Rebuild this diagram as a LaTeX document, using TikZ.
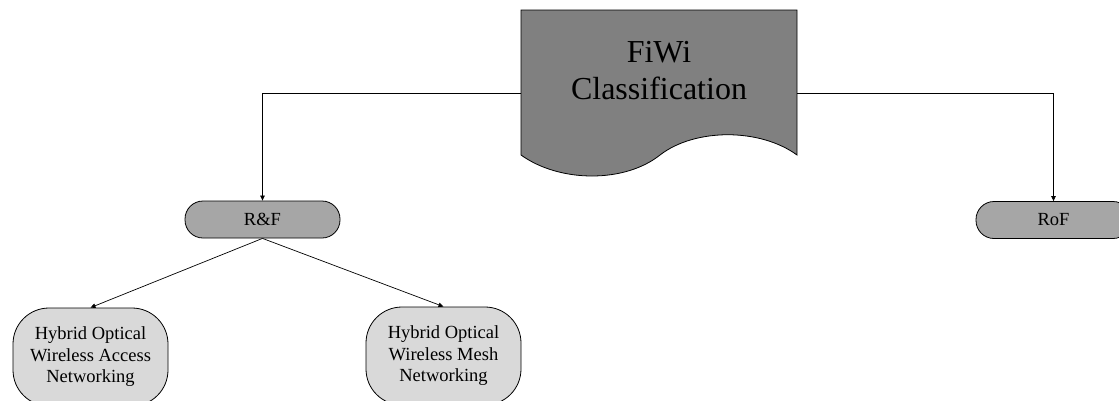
\documentclass[tikz,border=0pt]{standalone}
\usepackage{fontspec}
\setmainfont{Liberation Serif}
\usetikzlibrary{arrows.meta}
\definecolor{docgray}{HTML}{808080}
\definecolor{midgray}{HTML}{A6A6A6}
\definecolor{lightgray}{HTML}{D9D9D9}
\tikzset{
  pill/.style={draw=black, line width=0.8pt, fill=midgray, rounded corners=18pt,
    minimum width=155pt, minimum height=37pt, inner sep=0pt,
    font=\fontsize{18.5}{21.5}\selectfont},
  leafbox/.style={draw=black, line width=0.8pt, fill=lightgray, rounded corners=36pt,
    minimum width=155pt, minimum height=98pt, inner sep=0pt, align=center,
    font=\fontsize{18.5}{21.5}\selectfont},
  conn/.style={draw=black, line width=0.7pt, -{Triangle[length=5pt,width=4.5pt]}},
  line/.style={draw=black, line width=0.7pt}
}
\begin{document}
\begin{tikzpicture}[x=1pt,y=-1pt]
\useasboundingbox (0,0) rectangle (1119,400);
% document shape
\draw[line width=0.8pt, fill=docgray] (521,10) -- (797,10) -- (797,155)
  .. controls (760,128) and (695,128) .. (660,155)
  .. controls (625,183) and (560,183) .. (521,155) -- cycle;
\node[align=center, inner sep=0pt, font=\fontsize{32}{37}\selectfont] (doc) at (659,70.5) {FiWi\\Classification};
\coordinate (docL) at (521,93);
\coordinate (docR) at (797,93);
% level 1
\node[pill] (rf) at (262.5,219.5) {R\&F};
\node[pill] (rof) at (1053.5,220) {RoF};
% level 2
\node[leafbox] (acc) at (90.5,357) {Hybrid Optical\\Wireless Access\\Networking};
\node[leafbox] (mesh) at (443.5,356) {Hybrid Optical\\Wireless Mesh\\Networking};
% connectors
\draw[conn] (docL) -| (rf.north);
\draw[conn] (docR) -| (rof.north);
\draw[conn] (rf.south) -- (acc.north);
\draw[conn] (rf.south) -- (mesh.north);
\end{tikzpicture}
\end{document}
